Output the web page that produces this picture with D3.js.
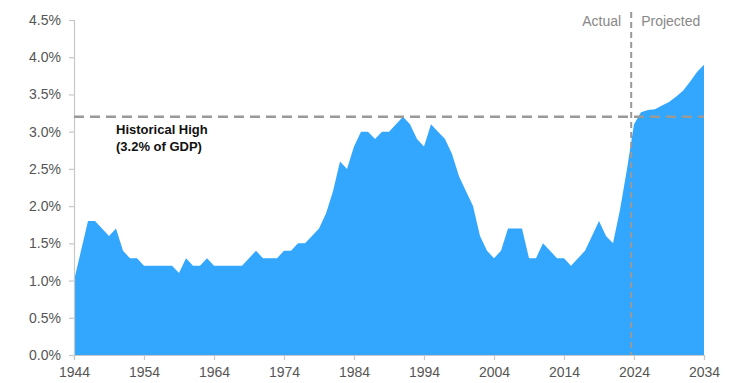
<!DOCTYPE html>
<html><head><meta charset="utf-8">
<script src="https://cdn.jsdelivr.net/npm/d3@7"></script>
<style>
html,body{margin:0;padding:0;background:#fff;}
svg{display:block;}
</style></head>
<body>
<svg id="chart" width="730" height="383"></svg>
<script>
const years = d3.range(1944, 2035);
const values = [
  1.0, 1.4, 1.8, 1.8, 1.7, 1.6, 1.7, 1.4, 1.3, 1.3,   // 1944-1953
  1.2, 1.2, 1.2, 1.2, 1.2, 1.1, 1.3, 1.2, 1.2, 1.3,   // 1954-1963
  1.2, 1.2, 1.2, 1.2, 1.2, 1.3, 1.4, 1.3, 1.3, 1.3,   // 1964-1973
  1.4, 1.4, 1.5, 1.5, 1.6, 1.7, 1.9, 2.2, 2.6, 2.5,   // 1974-1983
  2.8, 3.0, 3.0, 2.9, 3.0, 3.0, 3.1, 3.2, 3.1, 2.9,   // 1984-1993
  2.8, 3.1, 3.0, 2.9, 2.7, 2.4, 2.2, 2.0, 1.6, 1.4,   // 1994-2003
  1.3, 1.4, 1.7, 1.7, 1.7, 1.3, 1.3, 1.5, 1.4, 1.3,   // 2004-2013
  1.3, 1.2, 1.3, 1.4, 1.6, 1.8, 1.6, 1.5, 1.95, 2.5,  // 2014-2023
  3.1, 3.26, 3.29, 3.3, 3.35, 3.4, 3.47, 3.55, 3.67, 3.8, // 2024-2033
  3.9                                                  // 2034
];
const xTicks = [1944, 1954, 1964, 1974, 1984, 1994, 2004, 2014, 2024, 2034];
const yTicks = [0, 0.5, 1.0, 1.5, 2.0, 2.5, 3.0, 3.5, 4.0, 4.5];
const historicalHigh = 3.2;
const splitYear = 2023.6;
const labelLines = ["Historical High", "(3.2% of GDP)"];
const periodLabels = ["Actual", "Projected"];

const data = years.map((yr, i) => ({year: yr, value: values[i]}));
const svg = d3.select("#chart");
const mLeft = 74, mRight = 704, mTop = 20, mBottom = 355;
const x = d3.scaleLinear().domain([1944, 2034]).range([mLeft, mRight]);
const y = d3.scaleLinear().domain([0, 4.5]).range([mBottom, mTop]);

svg.append("path")
  .datum(data)
  .attr("fill", "#33a6fd")
  .attr("d", d3.area().x(d => x(d.year)).y0(y(0)).y1(d => y(d.value)));

const font = "'Liberation Sans', Arial, sans-serif";
const yAxis = svg.append("g").attr("transform", `translate(${mLeft},0)`)
  .call(d3.axisLeft(y).tickValues(yTicks).tickFormat(d => d.toFixed(1) + "%").tickSize(5).tickPadding(8));
const xAxis = svg.append("g").attr("transform", `translate(0,${mBottom})`)
  .call(d3.axisBottom(x).tickValues(xTicks).tickFormat(d3.format("d")).tickSize(5).tickPadding(7));
[yAxis, xAxis].forEach(a => {
  a.selectAll(".domain").attr("stroke", "#c8c8c8").attr("stroke-width", 1.2);
  a.selectAll(".tick line").attr("stroke", "#c8c8c8").attr("stroke-width", 1.2);
  a.selectAll("text").attr("fill", "#555").style("font-family", font).style("font-size", "14px");
});

svg.append("line")
  .attr("x1", x(1944)).attr("x2", x(2034))
  .attr("y1", y(historicalHigh)).attr("y2", y(historicalHigh))
  .attr("stroke", "#999").attr("stroke-width", 2.5).attr("stroke-dasharray", "10,6");

svg.append("line")
  .attr("x1", x(splitYear)).attr("x2", x(splitYear))
  .attr("y1", 12).attr("y2", mBottom)
  .attr("stroke", "#999").attr("stroke-width", 2).attr("stroke-dasharray", "6,4");

svg.append("text").attr("x", x(splitYear) - 10).attr("y", 26)
  .attr("text-anchor", "end").attr("fill", "#888")
  .style("font-family", font).style("font-size", "14px").text(periodLabels[0]);
svg.append("text").attr("x", x(splitYear) + 10).attr("y", 26)
  .attr("text-anchor", "start").attr("fill", "#888")
  .style("font-family", font).style("font-size", "14px").text(periodLabels[1]);

const lbl = svg.append("text").attr("x", 116).attr("y", 134)
  .attr("fill", "#111").style("font-family", font)
  .style("font-size", "13px").style("font-weight", "bold");
labelLines.forEach((t, i) => lbl.append("tspan").attr("x", 116).attr("dy", i ? 17 : 0).text(t));
</script>
</body></html>
